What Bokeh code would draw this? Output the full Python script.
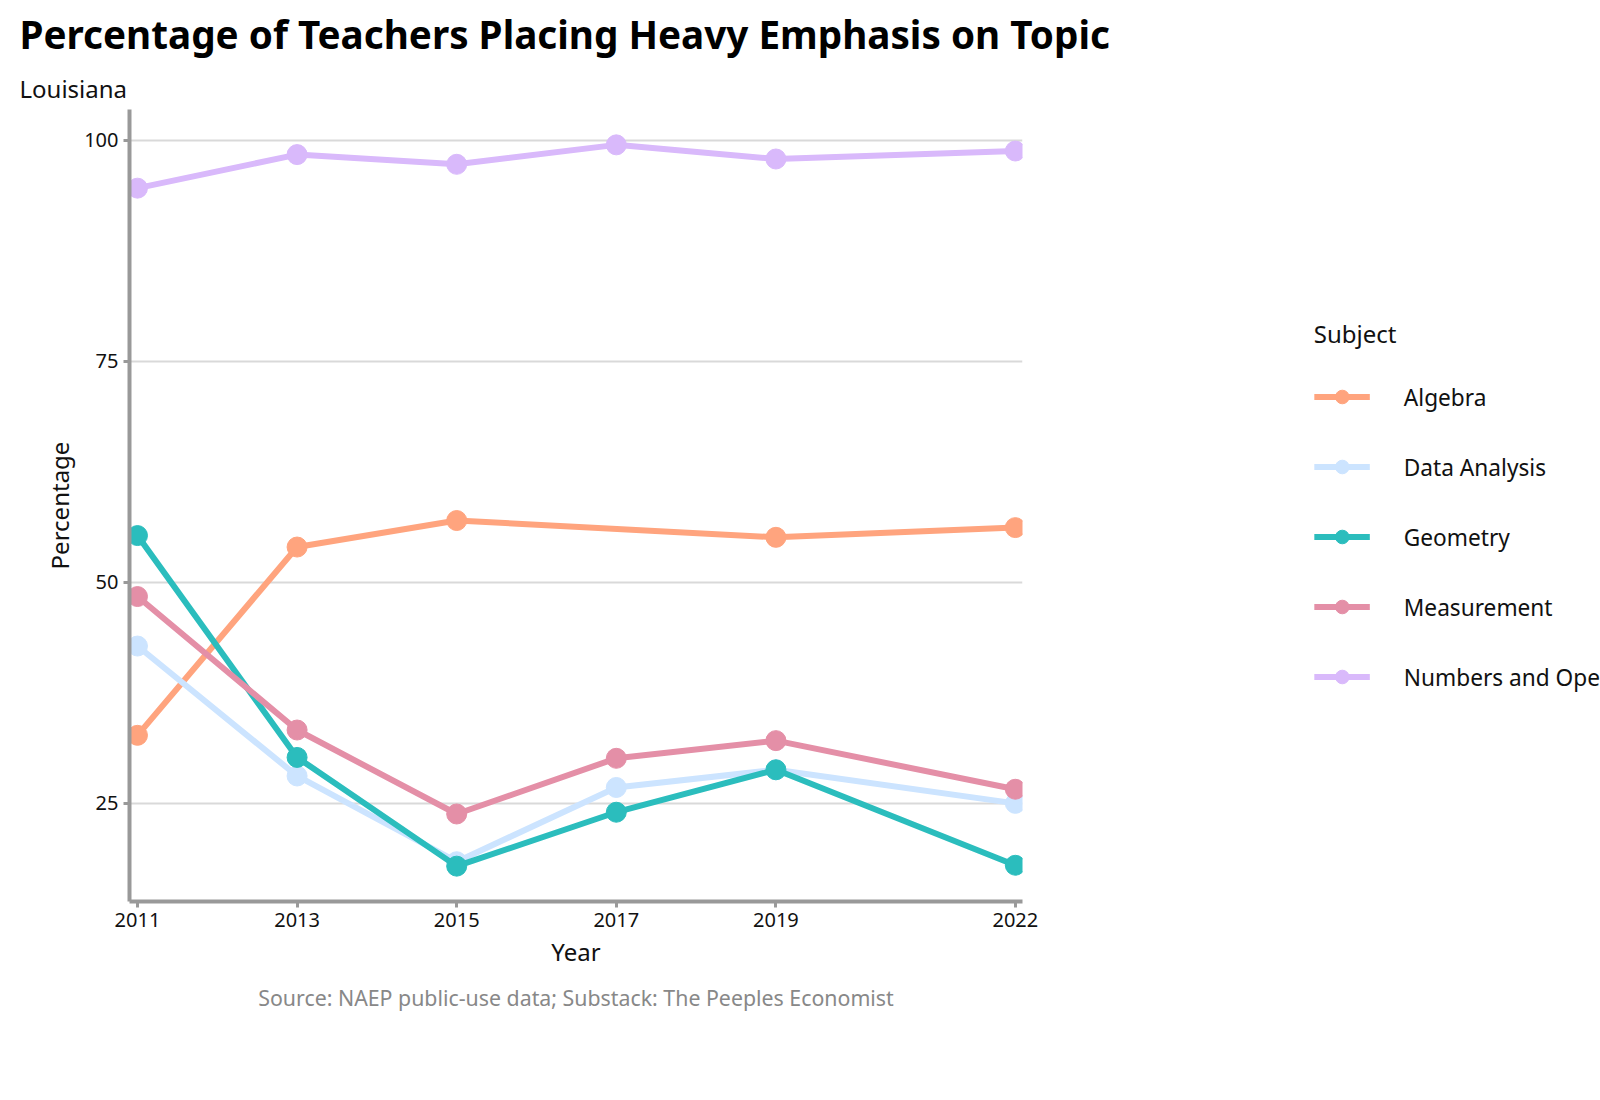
from bokeh.plotting import figure
from bokeh.models import Legend, LegendItem, Title, FixedTicker, Range1d
from bokeh.embed import file_html
from bokeh.resources import INLINE

years = [2011, 2013, 2015, 2017, 2019, 2022]
algebra_years = [2011, 2013, 2015, 2019, 2022]
algebra = [32.7, 54.0, 57.0, 55.1, 56.2]
data_analysis = [42.8, 28.1, 18.4, 26.8, 28.8, 25.0]
geometry = [55.3, 30.2, 17.9, 24.0, 28.8, 18.0]
measurement = [48.4, 33.3, 23.8, 30.1, 32.1, 26.6]
numbers_ops = [94.6, 98.4, 97.3, 99.5, 97.9, 98.8]

series = [
    ("Algebra", algebra_years, algebra, "#FFA47E"),
    ("Data Analysis", years, data_analysis, "#CCE4FF"),
    ("Geometry", years, geometry, "#2BBDBD"),
    ("Measurement", years, measurement, "#E48FA7"),
    ("Numbers and Operations", years, numbers_ops, "#D9B9FB"),
]

FONT = "Noto Sans"
p = figure(frame_width=893, frame_height=792, output_backend="svg", toolbar_location=None,
           x_range=Range1d(2010.9, 2022.09), y_range=Range1d(13.9, 103.5),
           min_border_left=129, min_border_right=10, min_border_top=10, min_border_bottom=10,
           background_fill_color="white",
           border_fill_color="white", outline_line_color=None)

items = []
for name, xs, ys, c in series:
    l = p.line(xs, ys, line_color=c, line_width=6)
    s = p.scatter(xs, ys, size=20, fill_color=c, line_color=c)
    items.append(LegendItem(label=name, renderers=[l, s]))

legend = Legend(items=items, title="Subject", title_text_font=FONT, title_text_font_size="18pt",
                title_text_font_style="normal", title_text_color="#111111",
                label_text_font=FONT, label_text_font_size="17pt", label_text_color="#111111",
                spacing=36, glyph_width=56, glyph_height=34, label_standoff=34,
                border_line_color=None, title_standoff=30, margin=70, padding=10, location="center")
p.add_layout(legend, "right")

p.xaxis.ticker = FixedTicker(ticks=years)
p.yaxis.ticker = FixedTicker(ticks=[25, 50, 75, 100])
for ax in (p.xaxis, p.yaxis):
    ax.axis_line_color = "#999999"
    ax.axis_line_width = 4
    ax.major_tick_line_color = "#999999"
    ax.major_tick_line_width = 3
    ax.major_tick_out = 6
    ax.major_tick_in = 0
    ax.minor_tick_line_color = None
    ax.major_label_text_font = FONT
    ax.major_label_text_font_size = "15pt"
    ax.major_label_text_color = "#111111"
    ax.axis_label_text_font = FONT
    ax.axis_label_text_font_size = "18pt"
    ax.axis_label_text_font_style = "normal"
    ax.axis_label_text_color = "#111111"
p.xaxis.axis_label = "Year"
p.yaxis.axis_label = "Percentage"
p.xgrid.grid_line_color = None
p.ygrid.grid_line_color = "#d9d9d9"
p.ygrid.grid_line_width = 2

p.add_layout(Title(text="Source: NAEP public-use data; Substack: The Peeples Economist", text_font=FONT,
                   text_font_size="16pt", text_color="#888888", text_font_style="normal",
                   align="center", offset=0, standoff=20), "below")
p.add_layout(Title(text="Louisiana", text_font=FONT, text_font_size="18pt", text_font_style="normal",
                   text_color="#111111", offset=-110), "above")
p.add_layout(Title(text="Percentage of Teachers Placing Heavy Emphasis on Topic", text_font=FONT,
                   text_font_size="29pt", text_font_style="bold", text_color="#000000", offset=-110), "above")

open("out.html", "w").write(file_html(p, INLINE))
